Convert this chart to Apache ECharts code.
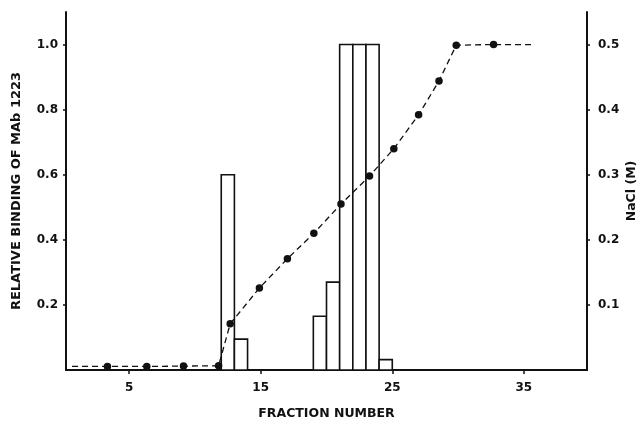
<!DOCTYPE html>
<html>
<head>
<meta charset="utf-8">
<script src="https://cdn.jsdelivr.net/npm/echarts@6/dist/echarts.min.js"></script>
<style>
  html, body { margin: 0; padding: 0; background: #fff; }
  #chart { width: 644px; height: 425px; }
</style>
</head>
<body>
<div id="chart"></div>
<script>
// binding histogram: each bar covers one fraction (start..end)
const barStart = [12, 13, 19, 20, 21, 22, 23, 24];
const barEnd = [13, 14, 20, 21, 22, 23, 24, 25];
const binding = [0.60, 0.095, 0.165, 0.27, 1.0, 1.0, 1.0, 0.032];

// NaCl gradient (right axis)
const fraction = [3.35, 6.34, 9.13, 11.8, 12.68, 14.9, 17.03, 19.04, 21.1, 23.27, 25.12, 27.0, 28.55, 29.86, 32.7];
const nacl = [0.0055, 0.0055, 0.006, 0.0065, 0.071, 0.126, 0.171, 0.21, 0.255, 0.298, 0.34, 0.392, 0.444, 0.499, 0.5];
// dashed line runs on past the first and last points
const lineStart = [0.66, 0.0055];
const lineEnd = [35.6, 0.5];

const xTicks = [5, 15, 25, 35];
const leftTicks = [0.2, 0.4, 0.6, 0.8, 1.0];
const rightTicks = [0.1, 0.2, 0.3, 0.4, 0.5];

const ink = '#111';
const font = 'DejaVu Sans';

const barData = barStart.map((s, i) => [s, barEnd[i], binding[i]]);
const lineData = [{ value: lineStart, symbol: 'none' }]
  .concat(fraction.map((f, i) => [f, nacl[i]]))
  .concat([{ value: lineEnd, symbol: 'none' }]);

const chart = echarts.init(document.getElementById('chart'));

const axisText = { color: ink, fontFamily: font, fontWeight: 'bold', fontSize: 12 };
const nameText = { color: ink, fontFamily: font, fontWeight: 'bold', fontSize: 12.5 };

chart.setOption({
  animation: false,
  backgroundColor: '#fff',
  grid: { left: 66, right: 57, top: 12, bottom: 55, outerBoundsMode: 'none', containLabel: false },
  xAxis: {
    type: 'value',
    min: 0.2,
    max: 39.8,
    name: 'FRACTION NUMBER',
    nameLocation: 'middle',
    nameGap: 37,
    nameMoveOverlap: false,
    nameTextStyle: nameText,
    axisLine: { lineStyle: { color: ink, width: 2 } },
    axisTick: { customValues: xTicks, length: 4, lineStyle: { color: ink, width: 1.5 } },
    axisLabel: Object.assign({ customValues: xTicks, margin: 12 }, axisText),
    splitLine: { show: false }
  },
  yAxis: [
    {
      type: 'value',
      min: 0,
      max: 1.1,
      name: 'RELATIVE BINDING OF MAb 1223',
      nameLocation: 'middle',
      nameRotate: 90,
      nameGap: 43,
      nameMoveOverlap: false,
      nameTextStyle: Object.assign({}, nameText, { fontSize: 13 }),
      axisLine: { show: true, lineStyle: { color: ink, width: 2 } },
      axisTick: { customValues: leftTicks, length: 3, lineStyle: { color: ink, width: 1.5 } },
      axisLabel: Object.assign({ customValues: leftTicks, margin: 8, formatter: v => v.toFixed(1) }, axisText),
      splitLine: { show: false }
    },
    {
      type: 'value',
      min: 0,
      max: 0.55,
      position: 'right',
      name: 'NaCl (M)',
      nameLocation: 'middle',
      nameRotate: 90,
      nameGap: 38,
      nameMoveOverlap: false,
      nameTextStyle: nameText,
      axisLine: { show: true, lineStyle: { color: ink, width: 2 } },
      axisTick: { customValues: rightTicks, length: 3, lineStyle: { color: ink, width: 1.5 } },
      axisLabel: Object.assign({ customValues: rightTicks, margin: 11, formatter: v => v.toFixed(1) }, axisText),
      splitLine: { show: false }
    }
  ],
  series: [
    {
      type: 'custom',
      xAxisIndex: 0,
      yAxisIndex: 0,
      data: barData,
      encode: { x: [0, 1], y: 2 },
      z: 2,
      renderItem: function (params, api) {
        const p0 = api.coord([api.value(0), api.value(2)]);
        const p1 = api.coord([api.value(1), 0]);
        return {
          type: 'rect',
          shape: { x: p0[0], y: p0[1], width: p1[0] - p0[0], height: p1[1] - p0[1] },
          style: { fill: '#fff', stroke: ink, lineWidth: 1.6 }
        };
      }
    },
    {
      type: 'line',
      xAxisIndex: 0,
      yAxisIndex: 1,
      data: lineData,
      z: 5,
      symbol: 'circle',
      symbolSize: 7.5,
      itemStyle: { color: ink },
      lineStyle: { color: ink, width: 1.3, type: [6, 4] }
    }
  ]
});
</script>
</body>
</html>
